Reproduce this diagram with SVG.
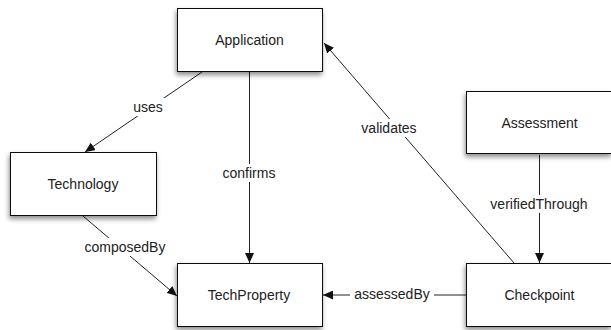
<svg xmlns="http://www.w3.org/2000/svg" width="611" height="330" viewBox="0 0 611 330">
<style>
.box{fill:#fff;stroke:#111;stroke-width:1;filter:url(#sh)}
.lbl{font-family:"Liberation Sans",Arial,sans-serif;font-size:14px;fill:#222;text-anchor:middle}
.edge{stroke:#222;stroke-width:1;fill:none;marker-end:url(#ah)}
.bg{fill:#fff}
</style>
<defs>
<filter id="sh" x="-20%" y="-20%" width="140%" height="150%">
<feDropShadow dx="-1" dy="3" stdDeviation="2.5" flood-color="#000" flood-opacity="0.45"/>
</filter>
<marker id="ah" markerUnits="userSpaceOnUse" markerWidth="11" markerHeight="9" refX="10" refY="4.5" orient="auto">
<path d="M0,0 L10,4.5 L0,9 z" fill="#111"/>
</marker>
</defs>
<rect width="611" height="330" fill="#fff"/>
<g id="connectors">
<line class="edge" x1="202" y1="72" x2="85" y2="152"/>
<line class="edge" x1="249.5" y1="72" x2="249.5" y2="263"/>
<line class="edge" x1="514" y1="263" x2="324" y2="43"/>
<line class="edge" x1="539.5" y1="155" x2="539.5" y2="263"/>
<line class="edge" x1="83" y1="216" x2="177" y2="296"/>
<line class="edge" x1="466" y1="295" x2="323" y2="295"/>
<rect class="bg" x="129" y="98" width="39" height="18"/>
<text class="lbl" x="148" y="112">uses</text>
<rect class="bg" x="219" y="164" width="60" height="18"/>
<text class="lbl" x="249" y="178">confirms</text>
<rect class="bg" x="357" y="119" width="64" height="18"/>
<text class="lbl" x="389" y="133">validates</text>
<rect class="bg" x="485" y="195" width="108" height="18"/>
<text class="lbl" x="539" y="209">verifiedThrough</text>
<rect class="bg" x="80" y="238" width="90" height="18"/>
<text class="lbl" x="125" y="252">composedBy</text>
<rect class="bg" x="350" y="285" width="84" height="18"/>
<text class="lbl" x="392" y="299">assessedBy</text>
</g>
<g id="application">
<rect class="box" x="177.5" y="8.5" width="145" height="63"/>
<text class="lbl" x="249.5" y="45">Application</text>
</g>
<g id="technology">
<rect class="box" x="10.5" y="152.5" width="146" height="63"/>
<text class="lbl" x="83" y="189">Technology</text>
</g>
<g id="techproperty">
<rect class="box" x="177.5" y="263.5" width="145" height="63"/>
<text class="lbl" x="249" y="300">TechProperty</text>
</g>
<g id="checkpoint">
<rect class="box" x="466.5" y="263.5" width="145" height="63"/>
<text class="lbl" x="539.5" y="300">Checkpoint</text>
</g>
<g id="assessment">
<rect class="box" x="466.5" y="91.5" width="145" height="62"/>
<text class="lbl" x="539.5" y="127.5">Assessment</text>
</g>
</svg>
